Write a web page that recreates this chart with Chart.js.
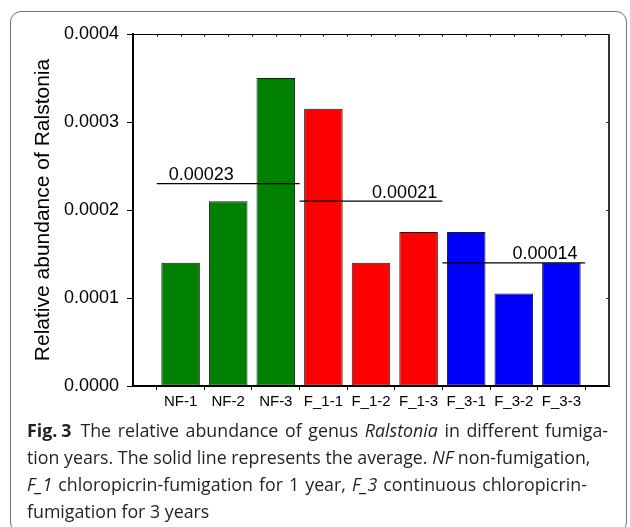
<!DOCTYPE html>
<html>
<head>
<meta charset="utf-8">
<script src="https://cdn.jsdelivr.net/npm/chart.js@4.4.1/dist/chart.umd.min.js"></script>
<style>
  html, body { margin: 0; padding: 0; background: #fff; overflow: hidden; }
  #page { position: relative; width: 630px; height: 527px; }
  .box {
    position: absolute; left: 10px; top: 11px; width: 617px; height: 522px;
    border: 1px solid #707070; border-radius: 11px; box-sizing: border-box;
  }
  #chart { position: absolute; left: 0; top: 0; }
  .caption {
    position: absolute; left: 27px; width: 581px; top: 417px;
    font-family: 'Open Sans', sans-serif; font-size: 17.8px; line-height: 27px; color: #231f20;
  }
  .caption div { white-space: nowrap; }
  .caption .j { text-align: justify; text-align-last: justify; }
</style>
</head>
<body>
<div id="page">
  <div class="box"></div>
  <canvas id="chart" width="630" height="420"></canvas>
  <div class="caption">
    <div class="j"><b>Fig.<span style="margin-left:4px"></span>3</b>&ensp;The relative abundance of genus <i>Ralstonia</i> in different fumiga-</div>
    <div class="j" style="width:551px">tion years. The solid line represents the average. <i>NF</i> non-fumigation,</div>
    <div class="j" style="width:560px"><i>F_1</i> chloropicrin-fumigation for 1 year, <i>F_3</i> continuous chloropicrin-</div>
    <div>fumigation for 3 years</div>
  </div>
</div>
<script>
// samples and their relative abundance of Ralstonia
const categories = ['NF-1', 'NF-2', 'NF-3', 'F_1-1', 'F_1-2', 'F_1-3', 'F_3-1', 'F_3-2', 'F_3-3'];
const abundance = [0.00014, 0.00021, 0.00035, 0.000315, 0.00014, 0.000175, 0.000175, 0.000105, 0.00014];
// mean of each treatment (3 samples each)
const groupMeans = [0.00023, 0.00021, 0.00014];
const yTicks = [0, 0.0001, 0.0002, 0.0003, 0.0004];

const barColors = ['#008000', '#008000', '#008000', '#ff0000', '#ff0000', '#ff0000', '#0000ff', '#0000ff', '#0000ff'];
// where the mean value text sits along each mean line
const meanLabelPlace = [
  { at: 'start', shift: 0.25, align: 'left' },
  { at: 'end', shift: -0.11, align: 'right' },
  { at: 'end', shift: -0.16, align: 'right' }
];

Chart.defaults.font.family = "'Liberation Sans', Arial, sans-serif";
Chart.defaults.color = '#000';

const groupSize = 3;
const meanLines = groupMeans.map((m, g) => ({
  start: g * groupSize + 0.5,
  end: g * groupSize + groupSize + 0.5,
  value: m
}));

const lineSets = meanLines.map(l => ({
  type: 'line',
  data: [{ x: l.start, y: l.value }, { x: l.end, y: l.value }],
  borderColor: '#000',
  borderWidth: 1.3,
  pointRadius: 0,
  order: 0
}));

// frame on top/right with small inward ticks, plus the mean labels
const framePlugin = {
  id: 'frame',
  afterDatasetsDraw(chart) {
    const { ctx, chartArea: a, scales: { x, y } } = chart;
    ctx.save();
    ctx.strokeStyle = '#000';
    ctx.lineWidth = 1.2;
    ctx.beginPath();
    ctx.moveTo(a.left, a.top + 0.5);
    ctx.lineTo(a.right, a.top + 0.5);
    for (let v = 0.5; v < x.max; v += 0.5) {
      const px = Math.round(x.getPixelForValue(v)) + 0.5;
      ctx.moveTo(px, a.top);
      ctx.lineTo(px, a.top + 2.5);
    }
    ctx.stroke();
    ctx.strokeStyle = '#333';
    ctx.lineWidth = 2;
    ctx.beginPath();
    ctx.moveTo(a.right, a.top);
    ctx.lineTo(a.right, a.bottom);
    ctx.stroke();
    ctx.lineWidth = 1;
    ctx.beginPath();
    yTicks.slice(1, -1).forEach(v => {
      const py = Math.round(y.getPixelForValue(v)) + 0.5;
      ctx.moveTo(a.right, py);
      ctx.lineTo(a.right - 3, py);
    });
    ctx.stroke();

    ctx.fillStyle = '#000';
    ctx.font = "18px 'Liberation Sans', Arial, sans-serif";
    ctx.textBaseline = 'alphabetic';
    meanLines.forEach((l, i) => {
      const p = meanLabelPlace[i];
      const base = p.at === 'start' ? l.start : l.end;
      ctx.textAlign = p.align;
      ctx.fillText(l.value.toFixed(5), x.getPixelForValue(base + p.shift), y.getPixelForValue(l.value) - 3.5);
    });
    ctx.restore();
  }
};

new Chart(document.getElementById('chart'), {
  type: 'bar',
  data: {
    datasets: [
      ...lineSets,
      {
        type: 'bar',
        data: categories.map((c, i) => ({ x: i + 1, y: abundance[i] })),
        backgroundColor: barColors,
        borderColor: '#1a1a1a',
        borderWidth: 1,
        borderSkipped: false,
        barPercentage: 0.81,
        categoryPercentage: 1,
        order: 1
      }
    ]
  },
  options: {
    responsive: false,
    animation: false,
    layout: { padding: { top: 34, right: 21, left: 0, bottom: 0 } },
    plugins: { legend: { display: false }, tooltip: { enabled: false } },
    scales: {
      x: {
        type: 'linear',
        min: 0,
        max: categories.length + 1,
        offset: false,
        z: 1,
        afterBuildTicks: s => { s.ticks = Array.from({ length: categories.length + 2 }, (_, i) => ({ value: i })); },
        afterFit: s => { s.height = 34; },
        ticks: {
          autoSkip: false,
          maxRotation: 0,
          padding: 3,
          font: { size: 15 },
          callback: v => categories[v - 1] || ''
        },
        grid: { offset: true, drawOnChartArea: false, tickLength: 4, color: '#000', lineWidth: 1 },
        border: { color: '#000', width: 2 }
      },
      y: {
        min: 0,
        max: 0.0004,
        z: 1,
        afterBuildTicks: s => { s.ticks = yTicks.map(v => ({ value: v })); },
        afterFit: s => { s.width = 133; },
        ticks: { padding: 8, font: { size: 18 }, callback: v => v.toFixed(4) },
        grid: { drawOnChartArea: false, tickLength: 6, color: '#000', lineWidth: 1 },
        border: { color: '#000', width: 2 },
        title: {
          display: true,
          text: 'Relative abundance of Ralstonia',
          font: { size: 21 },
          padding: { top: 31, bottom: 0 }
        }
      }
    }
  },
  plugins: [framePlugin]
});
</script>
</body>
</html>
